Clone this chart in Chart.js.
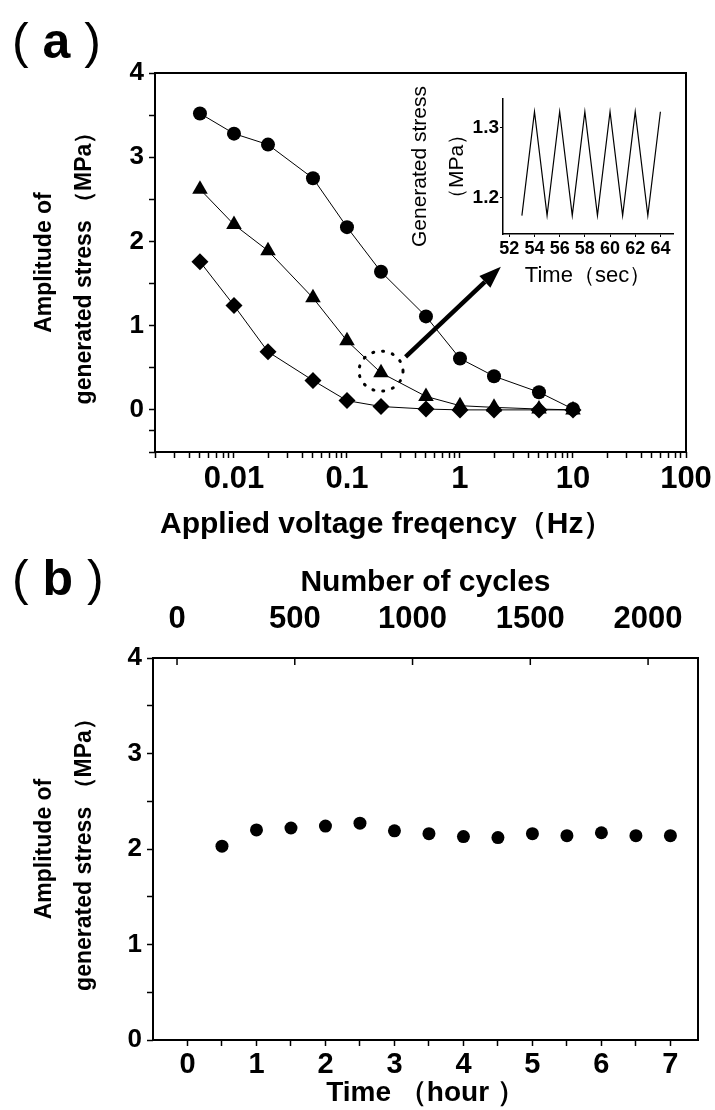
<html><head>
<title>Generated stress vs. frequency and time</title>
<script src="https://cdn.jsdelivr.net/npm/chart.js"></script>
<style>
  body {
    margin: 0;
    background: #fff;
    width: 715px;
    height: 1110px;
    position: relative;
    overflow: hidden;
    font-family: 'Liberation Sans', Arial, sans-serif;
  }
  .box { position: absolute; }
  .panel {
    position: absolute;
    font-size: 50px;
    line-height: 50px;
    color: #000;
    white-space: pre;
  }
  .axis-title {
    position: absolute;
    font-weight: bold;
    font-size: 30px;
    line-height: 34px;
    white-space: nowrap;
    color: #000;
  }
</style>
</head>
<body>
<div class="panel" style="left:12px;top:16px">( <b>a</b> )</div>
<div class="panel" style="left:12px;top:553px">( <b>b</b> )</div>

<div class="box" style="left:0;top:0"><canvas id="freqChart" width="715" height="545"></canvas></div>
<div class="box" style="left:400px;top:70px"><canvas id="insetChart" width="290" height="225"></canvas></div>
<div class="box" style="left:0;top:545px"><canvas id="timeChart" width="715" height="565"></canvas></div>
<div class="axis-title" style="left:160px;top:506px">Applied voltage freqency（Hz）</div>

<script>
const FONT = "'Liberation Sans', Arial, sans-serif";
const NARROW = "'Liberation Sans Narrow', 'Arial Narrow', 'Liberation Sans', sans-serif";

// (a) amplitude vs applied frequency
const freqHz = [0.005, 0.01, 0.02, 0.05, 0.1, 0.2, 0.5, 1, 2, 5, 10];
const stressCircle = [3.52, 3.28, 3.15, 2.75, 2.17, 1.64, 1.11, 0.61, 0.40, 0.21, 0.01];
const stressTriangle = [2.62, 2.20, 1.89, 1.33, 0.82, 0.44, 0.16, 0.05, 0.03, 0.01, 0.0];
const stressDiamond = [1.76, 1.24, 0.69, 0.35, 0.11, 0.04, 0.01, 0.0, 0.0, 0.0, 0.0];
const freqMajor = [0.01, 0.1, 1, 10, 100];
const freqLabels = ['0.01', '0.1', '1', '10', '100'];
const stressTicksA = [0, 1, 2, 3, 4];

// dotted ellipse + arrow pointing to the inset (data coordinates)
const calloutCenter = [0.2, 0.46];
const arrowFrom = [0.33, 0.63];
const arrowTo = [2.3, 1.70];

// inset: stress trace
const insetTime = [53, 54, 55, 56, 57, 58, 59, 60, 61, 62, 63, 64];
const insetStress = [1.175, 1.322, 1.175, 1.322, 1.175, 1.322, 1.175, 1.322, 1.175, 1.322, 1.175, 1.322];
const insetTimeTicks = [52, 54, 56, 58, 60, 62, 64];
const insetStressTicks = [1.2, 1.3];

// (b) amplitude vs time
const hours = [0.5, 1, 1.5, 2, 2.5, 3, 3.5, 4, 4.5, 5, 5.5, 6, 6.5, 7];
const amplitude = [2.03, 2.20, 2.22, 2.24, 2.27, 2.19, 2.16, 2.13, 2.12, 2.16, 2.14, 2.17, 2.14, 2.14];
const hourTicks = [0, 1, 2, 3, 4, 5, 6, 7];
const cycleTicks = [0, 500, 1000, 1500, 2000];
const stressTicksB = [0, 1, 2, 3, 4];

Chart.defaults.color = '#000';
Chart.defaults.font.family = FONT;

function withHalves(list) {
  const out = [];
  list.forEach((v, i) => {
    out.push(v);
    if (i < list.length - 1) out.push((v + list[i + 1]) / 2);
  });
  return out;
}

function logTicks(lo, hi) {
  const out = [];
  for (let e = lo; e < hi; e++) {
    for (let d = 1; d < 10; d++) out.push(+(d * Math.pow(10, e)).toPrecision(3));
  }
  out.push(Math.pow(10, hi));
  return out;
}

const tickGrid = { display: true, drawOnChartArea: false, drawTicks: true, tickLength: 6, color: '#000', tickColor: '#000', tickWidth: 1.5 };

const framePlugin = {
  id: 'frame',
  afterDraw(chart) {
    const { ctx, chartArea: a } = chart;
    ctx.save();
    ctx.strokeStyle = '#000';
    ctx.lineWidth = 2;
    ctx.strokeRect(a.left, a.top, a.right - a.left, a.bottom - a.top);
    ctx.restore();
  }
};

const calloutPlugin = {
  id: 'callout',
  afterDatasetsDraw(chart) {
    const { ctx } = chart;
    const xs = chart.scales.x, ys = chart.scales.y;
    const cx = xs.getPixelForValue(calloutCenter[0]);
    const cy = ys.getPixelForValue(calloutCenter[1]);
    ctx.save();
    ctx.strokeStyle = '#000';
    ctx.lineWidth = 3;
    ctx.lineCap = 'round';
    ctx.setLineDash([1, 9]);
    ctx.beginPath();
    ctx.ellipse(cx, cy, 22, 20, 0, 0, Math.PI * 2);
    ctx.stroke();
    ctx.setLineDash([]);

    const x1 = xs.getPixelForValue(arrowFrom[0]), y1 = ys.getPixelForValue(arrowFrom[1]);
    const x2 = xs.getPixelForValue(arrowTo[0]), y2 = ys.getPixelForValue(arrowTo[1]);
    const ang = Math.atan2(y2 - y1, x2 - x1);
    const head = 22, half = 8;
    const bx = x2 - head * Math.cos(ang), by = y2 - head * Math.sin(ang);
    ctx.lineWidth = 4.5;
    ctx.lineCap = 'butt';
    ctx.beginPath();
    ctx.moveTo(x1, y1);
    ctx.lineTo(bx, by);
    ctx.stroke();
    ctx.fillStyle = '#000';
    ctx.beginPath();
    ctx.moveTo(x2, y2);
    ctx.lineTo(bx + half * Math.sin(ang), by - half * Math.cos(ang));
    ctx.lineTo(bx - half * Math.sin(ang), by + half * Math.cos(ang));
    ctx.closePath();
    ctx.fill();
    ctx.restore();
  }
};

const innerTopTicks = {
  id: 'innerTopTicks',
  afterDraw(chart) {
    const { ctx, chartArea: a } = chart;
    const s = chart.scales.x2;
    ctx.save();
    ctx.strokeStyle = '#000';
    ctx.lineWidth = 1.5;
    cycleTicks.forEach(v => {
      const px = s.getPixelForValue(v);
      ctx.beginPath();
      ctx.moveTo(px, a.top);
      ctx.lineTo(px, a.top + 7);
      ctx.stroke();
    });
    ctx.restore();
  }
};

function series(ys, style, radius) {
  return {
    data: freqHz.map((x, i) => ({ x, y: ys[i] })),
    borderColor: '#000',
    borderWidth: 1,
    backgroundColor: '#000',
    pointStyle: style,
    pointRadius: radius,
    pointBackgroundColor: '#000',
    pointBorderColor: '#000',
    pointBorderWidth: 0,
    tension: 0
  };
}

new Chart(document.getElementById('freqChart'), {
  type: 'line',
  data: {
    datasets: [
      series(stressCircle, 'circle', 7),
      series(stressTriangle, 'triangle', 9),
      series(stressDiamond, 'rectRot', 8.5)
    ]
  },
  plugins: [framePlugin, calloutPlugin],
  options: {
    responsive: false,
    animation: false,
    layout: { padding: { left: 0, right: 29, top: 73, bottom: 0 } },
    plugins: { legend: { display: false }, tooltip: { enabled: false } },
    scales: {
      x: {
        type: 'logarithmic',
        min: 0.002,
        max: 100,
        border: { display: false },
        grid: tickGrid,
        afterBuildTicks: s => { s.ticks = logTicks(-3, 2).filter(v => v >= 0.002).map(v => ({ value: v })); },
        afterFit: s => { s.height = 93; },
        ticks: {
          autoSkip: false,
          maxRotation: 0,
          padding: 3,
          font: { family: NARROW, size: 31, weight: 'bold' },
          callback: v => {
            const i = freqMajor.findIndex(m => Math.abs(m - v) < m * 1e-6);
            return i >= 0 ? freqLabels[i] : '';
          }
        }
      },
      y: {
        min: -0.5,
        max: 4,
        border: { display: false },
        grid: tickGrid,
        afterBuildTicks: s => { s.ticks = withHalves([-0.5].concat(stressTicksA)).filter(v => v >= -0.5).map(v => ({ value: v })); },
        afterFit: s => { s.width = 155; },
        ticks: {
          autoSkip: false,
          padding: 5,
          font: { size: 26, weight: 'bold' },
          callback: v => stressTicksA.includes(v) ? String(v) : ''
        },
        title: {
          display: true,
          text: ['Amplitude of', 'generated stress （MPa）'],
          font: { size: 23, weight: 'bold', lineHeight: 1.74 },
          padding: { top: 25, bottom: 0 }
        }
      }
    }
  }
});

new Chart(document.getElementById('insetChart'), {
  type: 'line',
  data: {
    datasets: [{
      data: insetTime.map((x, i) => ({ x, y: insetStress[i] })),
      borderColor: '#000',
      borderWidth: 1.2,
      pointRadius: 0,
      tension: 0
    }]
  },
  options: {
    responsive: false,
    animation: false,
    layout: { padding: { left: 0, right: 17, top: 29, bottom: 0 } },
    plugins: { legend: { display: false }, tooltip: { enabled: false } },
    scales: {
      x: {
        type: 'linear',
        min: 51.5,
        max: 65,
        border: { display: true, color: '#000', width: 1.5 },
        grid: { display: true, drawOnChartArea: false, tickLength: 3, tickColor: '#000' },
        afterBuildTicks: s => { s.ticks = insetTimeTicks.map(v => ({ value: v })); },
        afterFit: s => { s.height = 61; },
        ticks: {
          autoSkip: false,
          maxRotation: 0,
          padding: 1,
          font: { family: NARROW, size: 18, weight: 'bold' },
          callback: v => String(v)
        },
        title: {
          display: true,
          text: 'Time（sec）',
          font: { size: 22 },
          padding: { top: 0, bottom: 6 }
        }
      },
      y: {
        min: 1.149,
        max: 1.34,
        border: { display: true, color: '#000', width: 1.5 },
        grid: { display: true, drawOnChartArea: false, tickLength: 3, tickColor: '#000' },
        afterBuildTicks: s => { s.ticks = insetStressTicks.map(v => ({ value: v })); },
        afterFit: s => { s.width = 103; },
        ticks: {
          autoSkip: false,
          padding: 1,
          font: { family: NARROW, size: 19, weight: 'bold' },
          callback: v => v.toFixed(1)
        },
        title: {
          display: true,
          text: ['Generated stress', '（MPa）'],
          font: { size: 21, lineHeight: 1.8 },
          padding: { top: 1, bottom: 0 }
        }
      }
    }
  }
});

new Chart(document.getElementById('timeChart'), {
  type: 'scatter',
  data: {
    datasets: [{
      data: hours.map((x, i) => ({ x, y: amplitude[i] })),
      pointStyle: 'circle',
      pointRadius: 6.5,
      pointBackgroundColor: '#000',
      pointBorderColor: '#000',
      pointBorderWidth: 0,
      showLine: false
    }]
  },
  plugins: [framePlugin, innerTopTicks],
  options: {
    responsive: false,
    animation: false,
    layout: { padding: { left: 0, right: 17, top: 0, bottom: 0 } },
    plugins: { legend: { display: false }, tooltip: { enabled: false } },
    scales: {
      x: {
        type: 'linear',
        position: 'bottom',
        min: -0.5,
        max: 7.4,
        border: { display: false },
        grid: tickGrid,
        afterBuildTicks: s => { s.ticks = withHalves(hourTicks).map(v => ({ value: v })); },
        afterFit: s => { s.height = 70; },
        ticks: {
          autoSkip: false,
          maxRotation: 0,
          padding: 2,
          font: { family: NARROW, size: 29, weight: 'bold' },
          callback: v => hourTicks.includes(v) ? String(v) : ''
        },
        title: {
          display: true,
          text: 'Time （hour ）',
          font: { family: NARROW, size: 28, weight: 'bold' },
          padding: { top: 0, bottom: 0 }
        }
      },
      x2: {
        type: 'linear',
        position: 'top',
        min: -102,
        max: 2212,
        border: { display: false },
        grid: { display: false },
        afterBuildTicks: s => { s.ticks = cycleTicks.map(v => ({ value: v })); },
        afterFit: s => { s.height = 113; },
        ticks: {
          autoSkip: false,
          maxRotation: 0,
          padding: 12,
          font: { family: NARROW, size: 31, weight: 'bold' },
          callback: v => String(v)
        },
        title: {
          display: true,
          text: 'Number of cycles',
          font: { family: NARROW, size: 30, weight: 'bold' },
          padding: { top: 20, bottom: 0 }
        }
      },
      y: {
        min: 0,
        max: 4,
        border: { display: false },
        grid: tickGrid,
        afterBuildTicks: s => { s.ticks = withHalves(stressTicksB).map(v => ({ value: v })); },
        afterFit: s => { s.width = 153; },
        ticks: {
          autoSkip: false,
          padding: 5,
          font: { size: 26, weight: 'bold' },
          callback: v => stressTicksB.includes(v) ? String(v) : ''
        },
        title: {
          display: true,
          text: ['Amplitude of', 'generated stress （MPa）'],
          font: { size: 23, weight: 'bold', lineHeight: 1.74 },
          padding: { top: 25, bottom: 0 }
        }
      }
    }
  }
});
</script>
</body></html>
